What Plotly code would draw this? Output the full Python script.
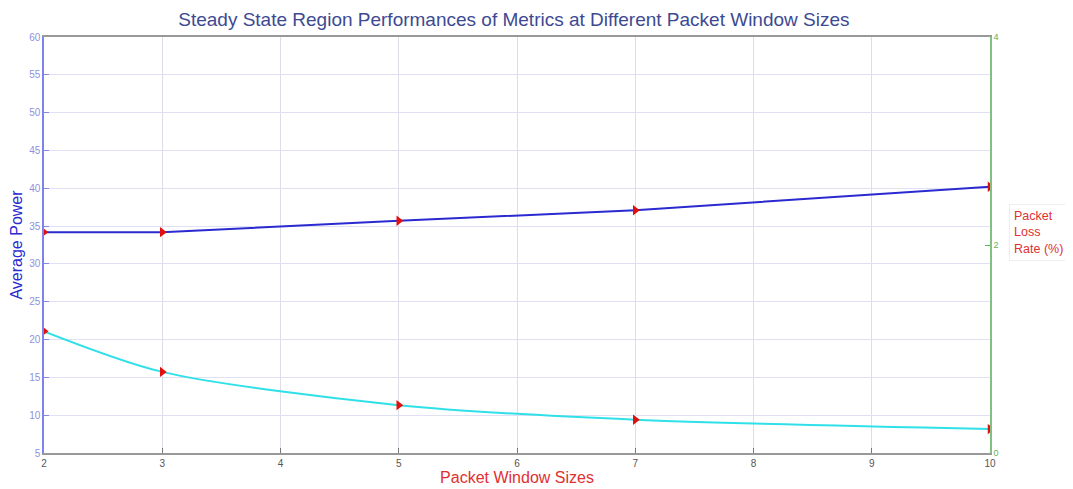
import plotly.graph_objects as go

window_sizes = [2, 3, 5, 7, 10]
average_power = [34.2, 34.2, 35.7, 37.1, 40.2]
packet_loss_rate = [1.17, 0.78, 0.46, 0.32, 0.23]

x_ticks = [2, 3, 4, 5, 6, 7, 8, 9, 10]
left_ticks = [5, 10, 15, 20, 25, 30, 35, 40, 45, 50, 55, 60]
right_ticks = [0, 2, 4]

fig = go.Figure()
fig.add_trace(go.Scatter(
    x=window_sizes, y=average_power, mode="lines+markers",
    line=dict(color="#2a2ad0", width=2),
    marker=dict(symbol="triangle-right", color="#e01010", size=9),
    name="Average Power", yaxis="y"))
fig.add_trace(go.Scatter(
    x=window_sizes, y=packet_loss_rate, mode="lines+markers",
    line=dict(color="#30e0e8", width=2, shape="spline", smoothing=0.8),
    marker=dict(symbol="triangle-right", color="#e01010", size=9),
    name="Packet Loss Rate (%)", yaxis="y2"))

fig.update_layout(
    width=1065, height=481,
    margin=dict(l=36, r=83, t=29, b=36, autoexpand=False),
    plot_bgcolor="white", paper_bgcolor="white",
    showlegend=False,
    font=dict(family="Liberation Sans, Arial, sans-serif"),
    title=dict(text="Steady State Region Performances of Metrics at Different Packet Window Sizes",
               x=0.475, xanchor="center", y=0.977, yanchor="middle",
               font=dict(size=19, color="#3d4a92")),
    xaxis=dict(range=[2, 10], tickvals=x_ticks, ticks="inside", ticklen=5,
               tickcolor="#777", tickfont=dict(size=10, color="#555"),
               showline=True, linecolor="#999", linewidth=1.5, mirror=True,
               showgrid=True, gridcolor="#dddde6", gridwidth=1, zeroline=False,
               automargin=False,
               title=dict(text="Packet Window Sizes", font=dict(size=16, color="#e03030"),
                          standoff=2)),
    yaxis=dict(range=[5, 60], tickvals=left_ticks, ticks="inside", ticklen=5,
               tickcolor="#8888dd", tickfont=dict(size=10, color="#9090e0"),
               showline=True, linecolor="#8080f0", linewidth=1.5,
               showgrid=True, gridcolor="#e0e0f4", gridwidth=1, zeroline=False,
               automargin=False,
               title=dict(text="Average Power", font=dict(size=16, color="#2a2ad0"),
                          standoff=4)),
    yaxis2=dict(range=[0, 4], tickvals=right_ticks, overlaying="y", side="right",
                ticks="inside", ticklen=5, tickcolor="#60b060",
                tickfont=dict(size=9, color="#60b060"),
                showline=True, linecolor="#80c080", linewidth=1.5,
                showgrid=False, zeroline=False, automargin=False),
)

fig.add_annotation(
    xref="paper", yref="paper", x=1.02, y=0.53, xanchor="left", yanchor="middle",
    text="Packet<br>Loss<br>Rate (%)", showarrow=False, align="left",
    font=dict(size=12.5, color="#e03030"),
    bordercolor="#eeeeee", borderwidth=1, borderpad=4, bgcolor="white")

fig.write_html("out.html")
